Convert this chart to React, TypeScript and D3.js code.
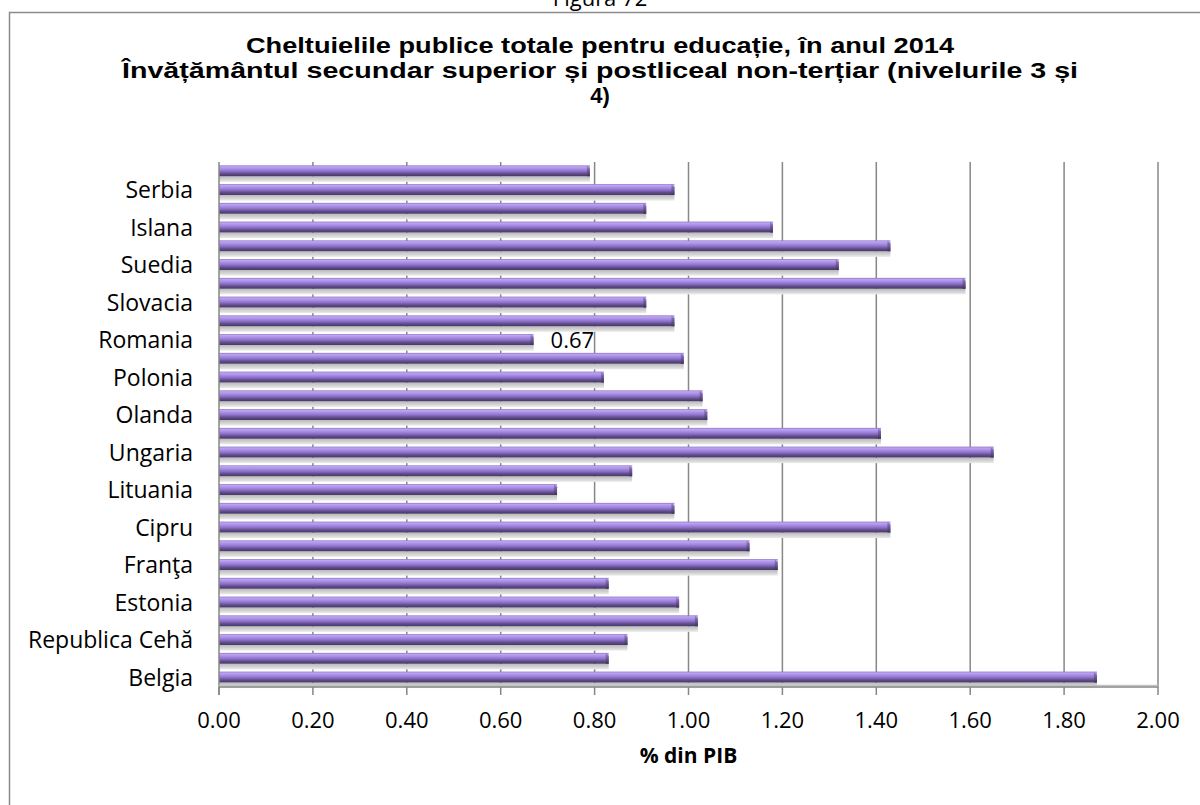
import React from "react";
import * as d3 from "d3";

// Data (bottom to top, as drawn)
const categories = [
  "Belgia", "Bulgaria", "Republica Cehă", "Danemarca", "Estonia", "Irlanda",
  "Franţa", "Croaţia", "Cipru", "Letonia", "Lituania", "Luxemburg",
  "Ungaria", "Malta", "Olanda", "Austria", "Polonia", "Portugalia",
  "Romania", "Slovenia", "Slovacia", "Finlanda", "Suedia", "Regatul Unit",
  "Islana", "Norvegia", "Serbia", "Turcia",
];
const values = [
  1.87, 0.83, 0.87, 1.02, 0.98, 0.83,
  1.19, 1.13, 1.43, 0.97, 0.72, 0.88,
  1.65, 1.41, 1.04, 1.03, 0.82, 0.99,
  0.67, 0.97, 0.91, 1.59, 1.32, 1.43,
  1.18, 0.91, 0.97, 0.79,
];
const xTicks = [0, 0.2, 0.4, 0.6, 0.8, 1.0, 1.2, 1.4, 1.6, 1.8, 2.0];
const titleLines = [
  "Cheltuielile publice totale pentru educație, în anul 2014",
  "Învățământul secundar superior și postliceal non-terțiar (nivelurile 3 și",
  "4)",
];
const titleWidths = [708, 956, 0];
const xAxisTitle = "% din PIB";
const figureLabel = "Figura 72";
const labeledCategory = "Romania";

export default function App() {
  const W = 1200, H = 805;
  const left = 219, right = 1158, top = 162, bottom = 687;
  const x = d3.scaleLinear().domain([0, 2]).range([left, right]);
  const y = d3.scaleBand<string>().domain(categories).range([bottom, top]);
  const bw = y.bandwidth();
  const barOff = bw * 0.18;
  const barH = bw * 0.58;
  const shH = bw * 0.3;
  const fmt = d3.format(".2f");
  const labelFont = "'Open Sans', sans-serif";

  return (
    <svg width={W} height={H} style={{ position: "absolute", left: 0, top: 0, background: "#fff" }}>
      <defs>
        <linearGradient id="barGrad" x1="0" y1="0" x2="0" y2="1">
          <stop offset="0" stopColor="#8a70c2" />
          <stop offset="0.12" stopColor="#bea6f2" />
          <stop offset="0.32" stopColor="#a98de6" />
          <stop offset="0.55" stopColor="#8b70c8" />
          <stop offset="0.78" stopColor="#5f4b88" />
          <stop offset="1" stopColor="#463865" />
        </linearGradient>
        <linearGradient id="shGrad" x1="0" y1="0" x2="0" y2="1">
          <stop offset="0" stopColor="#b9b9b9" />
          <stop offset="0.6" stopColor="#d6d6d6" />
          <stop offset="1" stopColor="#ececec" />
        </linearGradient>
        <linearGradient id="capGrad" x1="0" y1="0" x2="0" y2="1">
          <stop offset="0" stopColor="#9d85d6" />
          <stop offset="1" stopColor="#3f3259" />
        </linearGradient>
      </defs>

      {/* outer frame */}
      <rect x={9.5} y={12.5} width={1400} height={1000} fill="none" stroke="#8c8c8c" strokeWidth={1.5} />
      <text x={600} y={6} textAnchor="middle" fontFamily={labelFont} fontSize={22} fill="#000">{figureLabel}</text>

      {/* title */}
      {titleLines.map((t, i) => (
        <text key={i} x={600} y={53 + i * 25} textAnchor="middle" fontFamily="'Liberation Sans', Arial, sans-serif"
          fontWeight="bold" fontSize={22} fill="#000"
          {...(titleWidths[i] ? { textLength: titleWidths[i], lengthAdjust: "spacingAndGlyphs" } : {})}>{t}</text>
      ))}

      {/* gridlines */}
      {xTicks.filter((t) => t > 0).map((t) => (
        <line key={t} x1={x(t)} x2={x(t)} y1={top} y2={bottom} stroke="#878787" strokeWidth={1.5} />
      ))}

      {/* shadows */}
      {categories.map((c, i) => (
        <rect key={"s" + c} x={x(0)} y={(y(c) as number) + barOff + barH} width={x(values[i]) - x(0)} height={shH} fill="url(#shGrad)" />
      ))}
      {/* bars */}
      {categories.map((c, i) => {
        const yy = (y(c) as number) + barOff;
        const xe = x(values[i]);
        return (
          <g key={"b" + c}>
            <rect x={x(0)} y={yy} width={xe - x(0)} height={barH} fill="url(#barGrad)" />
            <polygon points={`${xe - 3},${yy} ${xe},${yy + 3} ${xe},${yy + barH} ${xe - 3},${yy + barH}`} fill="url(#capGrad)" />
          </g>
        );
      })}

      {/* axes */}
      <line x1={left} x2={left} y1={top} y2={bottom + 8} stroke="#878787" strokeWidth={1.5} />
      <line x1={left} x2={right} y1={bottom - 1.5} y2={bottom - 1.5} stroke="#c4c4c4" strokeWidth={1.5} />
      <line x1={left} x2={right} y1={bottom} y2={bottom} stroke="#878787" strokeWidth={1.5} />
      {xTicks.map((t) => (
        <g key={"t" + t}>
          <line x1={x(t)} x2={x(t)} y1={bottom} y2={bottom + 8} stroke="#878787" strokeWidth={1.5} />
          <text x={x(t)} y={728} textAnchor="middle" fontFamily={labelFont} fontSize={22} fill="#000">{fmt(t)}</text>
        </g>
      ))}

      {/* category labels (every other) */}
      {categories.map((c, i) => i % 2 === 0 ? (
        <text key={"l" + c} x={193} y={(y(c) as number) + bw / 2} dy="0.36em" textAnchor="end" fontFamily={labelFont} fontSize={23} fill="#000">{c}</text>
      ) : null)}

      {/* data label */}
      {categories.map((c, i) => c === labeledCategory ? (
        <text key={"d" + c} x={x(values[i]) + 17} y={(y(c) as number) + bw / 2} dy="0.36em" fontFamily={labelFont} fontSize={22} fill="#000">{fmt(values[i])}</text>
      ) : null)}

      <text x={(left + right) / 2} y={763} textAnchor="middle" fontFamily={labelFont} fontWeight="bold" fontSize={21} fill="#000">{xAxisTitle}</text>
    </svg>
  );
}
